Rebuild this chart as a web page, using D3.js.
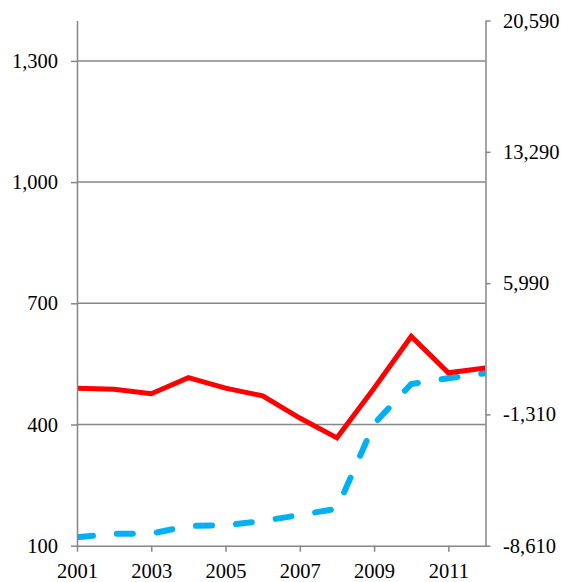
<!DOCTYPE html>
<meta charset="utf-8">
<body style="margin:0;background:#fff">
<style>
  text { font-family: "Liberation Serif", "Times New Roman", serif; font-size: 20.5px; fill: #000; }
  .axis path, .axis line { stroke: #868686; stroke-width: 1.5px; }
  .grid line { stroke: #868686; stroke-width: 1.5px; }
</style>
<script src="https://d3js.org/d3.v7.min.js"></script>
<script>
  var years = [2001, 2002, 2003, 2004, 2005, 2006, 2007, 2008, 2009, 2010, 2011, 2012];
  var yearLabels = [2001, 2003, 2005, 2007, 2009, 2011];
  // red series, left axis
  var redValues = [490, 487, 476, 516, 490, 471, 416, 367, 490, 618, 528, 540];
  // blue dashed series, right axis
  var blueValues = [-8143, -7943, -7937, -7514, -7475, -7236, -6902, -6552, -1841, 384, 701, 979];
  var leftTicks = [100, 400, 700, 1000, 1300];
  var rightTicks = [-8610, -1310, 5990, 13290, 20590];

  var width = 561, height = 582;
  var plotL = 77, plotR = 485.5, plotT = 20.5, plotB = 545.7;

  var svg = d3.select("body").append("svg")
    .attr("width", width)
    .attr("height", height);

  var x = d3.scalePoint().domain(years).range([plotL, plotR]);
  var yL = d3.scaleLinear().domain([100, 1400]).range([plotB, plotT]);
  var yR = d3.scaleLinear().domain([-8610, 20590]).range([plotB, plotT]);

  // hyphen minus like the original, not the unicode minus
  var fmt = function(d) { return d3.format(",")(d).replace("\u2212", "-"); };

  svg.append("defs").append("clipPath").attr("id", "plot")
    .append("rect")
    .attr("x", plotL).attr("y", plotT)
    .attr("width", plotR - plotL).attr("height", plotB - plotT);

  // gridlines
  svg.append("g").attr("class", "grid")
    .selectAll("line")
    .data(leftTicks.slice(1))
    .enter().append("line")
    .attr("x1", plotL).attr("x2", plotR)
    .attr("y1", function(d) { return yL(d); })
    .attr("y2", function(d) { return yL(d); });

  var lines = svg.append("g").attr("clip-path", "url(#plot)");

  lines.append("path")
    .datum(blueValues)
    .attr("fill", "none")
    .attr("stroke", "#00B0F0")
    .attr("stroke-width", 6)
    .attr("stroke-linecap", "round")
    .attr("stroke-linejoin", "round")
    .attr("stroke-dasharray", "16,24")
    .attr("d", d3.line()
      .x(function(d, i) { return x(years[i]); })
      .y(function(d) { return yR(d); }));

  lines.append("path")
    .datum(redValues)
    .attr("fill", "none")
    .attr("stroke", "#FF0000")
    .attr("stroke-width", 5)
    .attr("d", d3.line()
      .x(function(d, i) { return x(years[i]); })
      .y(function(d) { return yL(d); }));

  // axes
  var gx = svg.append("g").attr("class", "axis")
    .attr("transform", "translate(0," + plotB + ")")
    .call(d3.axisBottom(x).tickValues(yearLabels).tickSize(6).tickSizeOuter(0));
  gx.selectAll("text").attr("y", 32).attr("dy", null);

  svg.append("g").attr("class", "axis")
    .attr("transform", "translate(" + plotL + ",0)")
    .call(d3.axisLeft(yL).tickValues(leftTicks).tickSize(6).tickSizeOuter(0)
      .tickPadding(13).tickFormat(fmt));

  svg.append("g").attr("class", "axis")
    .attr("transform", "translate(" + plotR + ",0)")
    .call(d3.axisRight(yR).tickValues(rightTicks).tickSize(5).tickSizeOuter(0)
      .tickPadding(12.5).tickFormat(fmt));

  svg.selectAll(".axis text")
    .style("font-family", "'Liberation Serif', 'Times New Roman', serif")
    .style("font-size", "20.5px");
  svg.selectAll(".axis .domain").attr("stroke", "#868686");
  svg.selectAll(".axis .tick line").attr("stroke", "#868686");
</script>
</body>
